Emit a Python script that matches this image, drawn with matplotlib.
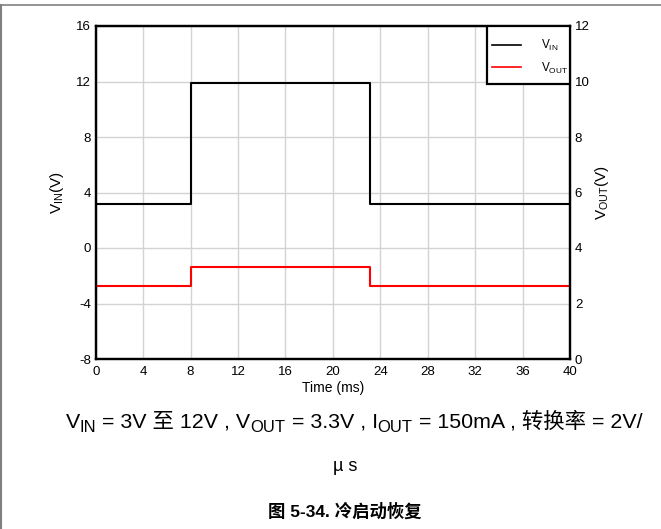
import matplotlib
matplotlib.use("Agg")
import matplotlib.pyplot as plt
from matplotlib.lines import Line2D
from matplotlib.patches import Rectangle
from matplotlib.transforms import IdentityTransform

# step points of the two traces
time_ms = [0, 8, 8, 23.1, 23.1, 40]
v_in = [3.15, 3.15, 11.9, 11.9, 3.15, 3.15]
v_out = [2.64, 2.64, 3.32, 3.32, 2.62, 2.62]

x_ticks = [0, 4, 8, 12, 16, 20, 24, 28, 32, 36, 40]
left_ticks = [-8, -4, 0, 4, 8, 12, 16]
right_ticks = [0, 2, 4, 6, 8, 10, 12]

legend_labels = [r"V$_{\mathrm{IN}}$", r"V$_{\mathrm{OUT}}$"]
left_label = r"V$_{\mathrm{IN}}$(V)"
right_label = r"V$_{\mathrm{OUT}}$(V)"
x_label = "Time (ms)"

# caption pieces, True marks a subscript
caption_runs = [("V", False), ("IN", True), (" = 3V 至 12V , V", False), ("OUT", True),
                (" = 3.3V , I", False), ("OUT", True), (" = 150mA , 转换率 = 2V/", False)]
caption_line2 = "µ s"
title = "图 5-34. 冷启动恢复"

FONTS = ["Liberation Sans", "Noto Sans CJK SC", "DejaVu Sans"]
plt.rcParams["font.family"] = FONTS
plt.rcParams["mathtext.fontset"] = "custom"
plt.rcParams["mathtext.rm"] = "Liberation Sans"
plt.rcParams["axes.unicode_minus"] = False

W, H = 661, 529
fig = plt.figure(figsize=(W / 100, H / 100), dpi=100)
ax = fig.add_axes([95.7 / W, 1 - 359 / H, 474.3 / W, 333 / H])
ax2 = ax.twinx()

ax.plot(time_ms, v_in, color="black", lw=1.5)
ax2.plot(time_ms, v_out, color="red", lw=1.5)

ax.set_xlim(0, 40)
ax.set_ylim(-8, 16)
ax2.set_ylim(0, 12)
ax.set_xticks(x_ticks)
ax.set_yticks(left_ticks)
ax2.set_yticks(right_ticks)
ax.grid(True, color="#d3d3d3", lw=1)
ax.set_axisbelow(True)

for a in (ax, ax2):
    a.tick_params(length=0, labelsize=9.5, pad=3.5)
    for sp in a.spines.values():
        sp.set_linewidth(1.6)
        sp.set_color("black")
ax.tick_params(axis="x", pad=5)

ax.set_xlabel(x_label, fontsize=10, labelpad=2)
ax.set_ylabel(left_label, fontsize=11, labelpad=7)
ax2.set_ylabel(right_label, fontsize=11, labelpad=2.5)

# legend box: taller padding than wide, so frame is drawn by hand
box = Rectangle((0.825, 0.826), 0.175, 0.174, transform=ax2.transAxes,
                facecolor="white", edgecolor="black", lw=1.6, zorder=4.5)
ax2.add_patch(box)
handles = [Line2D([], [], color="black", lw=1.2), Line2D([], [], color="red", lw=1.2)]
leg = ax2.legend(handles, legend_labels, loc="center", bbox_to_anchor=(0.916, 0.907),
                 fontsize=8.5, frameon=False, borderaxespad=0, borderpad=0,
                 handlelength=2.5, handletextpad=1.7, labelspacing=0.62)

# caption under the plot, laid out piece by piece so subscripts sit low
renderer = fig.canvas.get_renderer()


def text_width(s, fs):
    probe = fig.text(0, 0, "|" + s + "|", fontsize=fs, family=FONTS)
    bars = fig.text(0, 0, "||", fontsize=fs, family=FONTS)
    w = probe.get_window_extent(renderer).width - bars.get_window_extent(renderer).width
    probe.remove()
    bars.remove()
    return w


def caption_line(runs, cx, baseline, size):
    pieces = []
    for s, sub in runs:
        fs = size * 0.78 if sub else size
        pieces.append((s, fs, sub, text_width(s, fs)))
    x = cx - sum(p[3] for p in pieces) / 2
    for s, fs, sub, w in pieces:
        y = baseline - (size * 0.17 * 100 / 72 if sub else 0)
        fig.text(x, y, s, fontsize=fs, family=FONTS, transform=IdentityTransform(),
                 ha="left", va="baseline")
        x += w


caption_line(caption_runs, 354, H - 428, 15.4)
fig.text(345, H - 471, caption_line2, fontsize=13, family=FONTS,
         transform=IdentityTransform(), ha="center", va="baseline")
fig.text(345, H - 511, title, fontsize=12.5, fontweight="bold", family=FONTS,
         transform=IdentityTransform(), ha="center", va="center")

# thin gray frame on the top and left of the page
fig.add_artist(Line2D([0, 1], [1 - 5 / H, 1 - 5 / H], color="#808080", lw=1.2,
                      transform=fig.transFigure))
fig.add_artist(Line2D([0.5 / W, 0.5 / W], [0, 1 - 5 / H], color="#808080", lw=1.5,
                      transform=fig.transFigure))

fig.savefig("out.png", dpi=100)
